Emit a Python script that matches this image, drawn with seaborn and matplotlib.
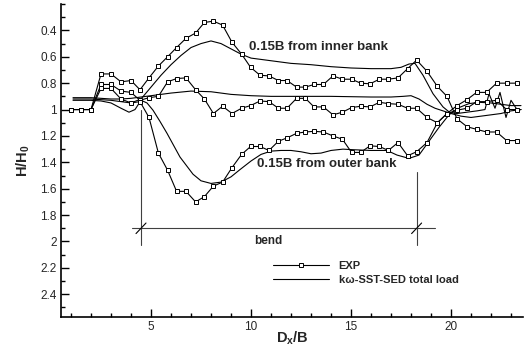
"""H/H0 along the flume: measurements vs. k-omega SST-SED total-load model."""
import matplotlib
matplotlib.use("Agg")
import matplotlib.pyplot as plt
import numpy as np
import pandas as pd
import seaborn as sns
from matplotlib.lines import Line2D
from matplotlib.ticker import FixedLocator, FixedFormatter, MultipleLocator

# ---- measured points (shared streamwise stations) ----
exp_x = [1.0, 1.5, 2.0, 2.5, 3.0, 3.5, 4.0, 4.45, 4.9, 5.37, 5.83, 6.28, 6.75, 7.23,
         7.67, 8.12, 8.58, 9.05, 9.53, 9.98, 10.45, 10.9, 11.37, 11.8, 12.28, 12.72,
         13.15, 13.62, 14.1, 14.57, 15.03, 15.48, 15.95, 16.42, 16.87, 17.35, 17.83,
         18.28, 18.8, 19.32, 19.8, 20.3, 20.8, 21.28, 21.78, 22.28, 22.78, 23.28]
exp_inner = [1.0, 1.0, 1.0, 0.73, 0.73, 0.79, 0.78, 0.85, 0.76, 0.67, 0.60, 0.53, 0.46,
             0.42, 0.34, 0.33, 0.36, 0.49, 0.58, 0.68, 0.74, 0.745, 0.78, 0.78, 0.83,
             0.83, 0.81, 0.81, 0.745, 0.77, 0.77, 0.80, 0.805, 0.77, 0.77, 0.76, 0.69,
             0.625, 0.71, 0.825, 0.90, 1.07, 1.13, 1.15, 1.17, 1.17, 1.235, 1.235]
exp_center = [1.0, 1.0, 1.0, 0.81, 0.81, 0.86, 0.87, 0.93, 0.91, 0.90, 0.79, 0.765, 0.76,
              0.85, 0.92, 1.03, 0.975, 1.03, 0.99, 0.97, 0.935, 0.94, 0.99, 0.99, 0.915,
              0.915, 0.98, 0.98, 1.04, 1.02, 0.985, 0.975, 0.98, 0.945, 0.955, 0.96,
              0.99, 0.99, 1.06, 1.10, 1.03, 1.005, 0.99, 0.94, 0.94, 0.93, 1.0, 1.0]
exp_outer = [1.0, 1.0, 1.0, 0.84, 0.84, 0.92, 0.95, 0.94, 1.06, 1.33, 1.46, 1.62, 1.62,
             1.70, 1.66, 1.58, 1.55, 1.44, 1.34, 1.28, 1.28, 1.31, 1.24, 1.215, 1.18,
             1.17, 1.165, 1.17, 1.20, 1.225, 1.325, 1.325, 1.275, 1.28, 1.31, 1.25, 1.35,
             1.32, 1.25, 1.10, 1.03, 0.97, 0.925, 0.87, 0.87, 0.80, 0.80, 0.80]

# ---- model curves ----
mod_inner_x = [1.1, 2.0, 3.0, 3.5, 4.0, 4.5, 5.0, 5.5, 6.0, 6.5, 7.0, 7.5, 8.0, 8.5, 9.0,
               9.5, 10.0, 11.0, 12.0, 13.0, 14.0, 15.0, 16.0, 17.0, 17.5, 17.9, 18.2,
               18.6, 19.1, 19.6, 20.0, 20.5, 21.0, 21.5, 22.0, 22.5, 23.0, 23.5]
mod_inner = [0.92, 0.92, 0.93, 0.94, 0.95, 0.92, 0.83, 0.74, 0.66, 0.59, 0.53, 0.50, 0.48,
             0.50, 0.54, 0.58, 0.61, 0.63, 0.65, 0.66, 0.675, 0.685, 0.69, 0.69, 0.68,
             0.655, 0.65, 0.74, 0.88, 0.98, 1.03, 1.05, 1.06, 1.05, 1.04, 1.03, 1.01, 1.0]
mod_center_x = [1.1, 2.0, 2.5, 3.0, 3.5, 4.0, 4.5, 5.0, 5.5, 6.0, 7.0, 8.0, 9.0, 10.0,
                11.0, 12.0, 14.0, 16.0, 17.0, 17.6, 18.0, 18.4, 18.8, 19.2, 19.8, 20.3,
                20.8, 21.3, 21.7, 21.9, 22.2, 22.45, 22.75, 23.0, 23.3, 23.5]
mod_center = [0.91, 0.91, 0.915, 0.92, 0.92, 0.915, 0.905, 0.895, 0.885, 0.875, 0.86,
              0.865, 0.885, 0.895, 0.90, 0.90, 0.90, 0.905, 0.905, 0.90, 0.895, 0.92,
              0.96, 0.99, 1.02, 1.03, 1.02, 1.01, 1.0, 0.88, 0.99, 0.87, 1.06, 0.93,
              1.0, 1.0]
mod_outer_x = [1.1, 2.0, 2.5, 3.0, 3.5, 3.9, 4.2, 4.5, 4.8, 5.1, 5.45, 5.8, 6.45, 7.1,
               7.5, 8.0, 8.5, 9.0, 9.45, 10.0, 10.5, 11.0, 11.5, 12.0, 12.5, 13.0, 13.5,
               14.0, 14.6, 15.2, 16.0, 16.8, 17.3, 17.9, 18.4, 18.9, 19.4, 19.9, 20.4,
               20.9, 21.4, 22.0, 22.5, 23.0, 23.5]
mod_outer = [0.93, 0.93, 0.935, 0.95, 0.99, 1.02, 1.0, 0.93, 0.95, 1.005, 1.09, 1.18,
             1.36, 1.49, 1.54, 1.56, 1.55, 1.51, 1.455, 1.39, 1.34, 1.315, 1.31, 1.31,
             1.32, 1.335, 1.33, 1.31, 1.30, 1.305, 1.31, 1.31, 1.345, 1.37, 1.345, 1.24,
             1.135, 1.04, 0.985, 0.955, 0.945, 0.95, 0.96, 0.97, 0.97]

# ---- axes / annotation text ----
x_ticks = [5, 10, 15, 20]
y_ticks = [0.4, 0.6, 0.8, 1.0, 1.2, 1.4, 1.6, 1.8, 2.0, 2.2, 2.4]
y_tick_labels = ["0.4", "0.6", "0.8", "1", "1.2", "1.4", "1.6", "1.8", "2", "2.2", "2.4"]
bend_start, bend_end, bend_y = 4.5, 18.28, 1.9

sns.set_style("ticks")
plt.rcParams["font.family"] = ["Liberation Sans", "DejaVu Sans"]
plt.rcParams["mathtext.fontset"] = "custom"
plt.rcParams["mathtext.rm"] = "Liberation Sans"
plt.rcParams["mathtext.bf"] = "Liberation Sans:bold"

fig = plt.figure(figsize=(5.24, 3.49), dpi=100)
ax = fig.add_axes([61 / 524, 1 - 316.7 / 349, 462 / 524, 312.7 / 349])

exp = pd.DataFrame({"x": exp_x * 3,
                    "H": exp_inner + exp_center + exp_outer,
                    "loc": ["inner"] * len(exp_x) + ["center"] * len(exp_x) + ["outer"] * len(exp_x)})
model = pd.DataFrame({"x": mod_inner_x + mod_center_x + mod_outer_x,
                      "H": mod_inner + mod_center + mod_outer,
                      "loc": ["inner"] * len(mod_inner_x) + ["center"] * len(mod_center_x)
                             + ["outer"] * len(mod_outer_x)})

for name, grp in model.groupby("loc"):
    sns.lineplot(data=grp, x="x", y="H", color="black", lw=0.8, ax=ax,
                 estimator=None, sort=False, legend=False)
for name, grp in exp.groupby("loc"):
    sns.lineplot(data=grp, x="x", y="H", color="black", lw=0.8, marker="s", ms=3.4,
                 mfc="white", mec="black", mew=0.7, ax=ax, estimator=None, sort=False,
                 legend=False)

# bend extent markers
lc = "#404040"
ax.plot([bend_start, bend_start], [1.0, 2.03], color=lc, lw=0.8)
ax.plot([bend_end, bend_end], [1.47, 2.03], color=lc, lw=0.8)
ax.plot([4.07, 19.2], [bend_y, bend_y], color=lc, lw=0.8)
for bx in (bend_start, bend_end):
    ax.plot([bx - 0.25, bx + 0.25], [bend_y + 0.04, bend_y - 0.04], color="black", lw=0.8)
ax.text(10.85, 2.0, "bend", fontsize=8.5, fontweight="bold", ha="center", va="center")
ax.text(9.9, 0.526, "0.15B from inner bank", fontsize=9.5, fontweight="bold",
        ha="left", va="center")
ax.text(10.28, 1.41, "0.15B from outer bank", fontsize=9.5, fontweight="bold",
        ha="left", va="center")

ax.set_xlim(0.5, 23.6)
ax.set_ylim(2.57, 0.2)
ax.xaxis.set_major_locator(FixedLocator(x_ticks))
ax.xaxis.set_minor_locator(MultipleLocator(1))
ax.yaxis.set_major_locator(FixedLocator(y_ticks))
ax.yaxis.set_major_formatter(FixedFormatter(y_tick_labels))
ax.yaxis.set_minor_locator(MultipleLocator(0.1))
ax.tick_params(which="both", direction="in", width=1.0, labelsize=8.5, color="black")
ax.tick_params(which="major", length=6, pad=3)
ax.tick_params(which="minor", length=3)
sns.despine(ax=ax)
for s in ("left", "bottom"):
    ax.spines[s].set_linewidth(1.2)
    ax.spines[s].set_color("black")

ax.set_xlabel(r"D$_\mathbf{x}$/B", fontsize=10.5, fontweight="bold", labelpad=-2.5)
ax.set_ylabel(r"H/H$_\mathbf{0}$", fontsize=10.5, fontweight="bold", labelpad=6)

handles = [Line2D([], [], color="black", lw=0.8, marker="s", ms=3.4, mfc="white", mew=0.7),
           Line2D([], [], color="black", lw=0.8)]
ax.legend(handles, ["EXP", "k\u03c9-SST-SED total load"], loc="center left",
          bbox_to_anchor=(273 / 524, 1 - 273 / 349), bbox_transform=fig.transFigure,
          frameon=False, numpoints=1, handlelength=5.0, handletextpad=0.9,
          borderpad=0, borderaxespad=0, labelspacing=0.3,
          prop={"size": 8, "weight": "bold"})

fig.savefig("out.png", dpi=100)
